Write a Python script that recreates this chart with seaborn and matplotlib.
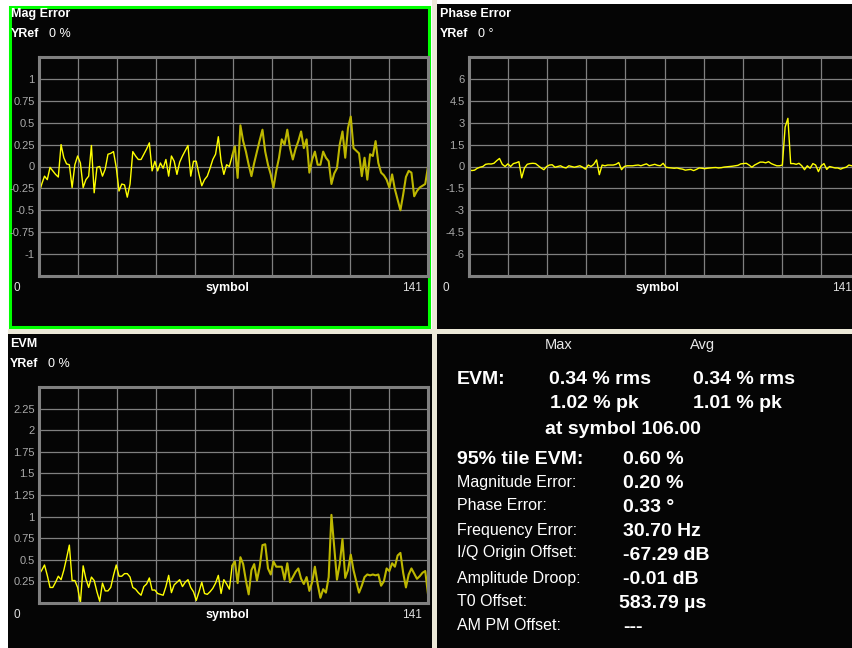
import numpy as np
import pandas as pd
import matplotlib.pyplot as plt
import seaborn as sns
from matplotlib.patches import Rectangle

W, H = 853, 648

symbols = np.arange(142)

mag_error = [-0.31, -0.20, -0.11, -0.15, -0.01, -0.05, -0.09, -0.12, 0.25, 0.10,
             0.03, 0.02, -0.24, 0.02, 0.12, 0.04, -0.24, -0.15, -0.11, 0.24,
             -0.30, -0.01, 0.00, -0.11, -0.03, 0.14, 0.15, 0.17, -0.01, -0.28,
             -0.20, -0.21, -0.35, -0.20, 0.17, 0.12, 0.08, 0.08, 0.14, 0.20,
             0.27, -0.05, 0.06, -0.05, 0.04, -0.02, 0.08, -0.11, 0.12, 0.06,
             -0.09, 0.05, 0.12, 0.18, 0.24, -0.11, 0.06, 0.06, -0.09, -0.22,
             -0.15, -0.11, -0.02, 0.08, 0.14, 0.34, 0.06, -0.09, 0.02, 0.00,
             0.12, 0.23, -0.13, 0.47, 0.29, 0.17, 0.02, -0.11, 0.04, 0.17,
             0.30, 0.42, 0.17, 0.02, -0.09, -0.24, -0.05, 0.10, 0.31, 0.25,
             0.42, 0.21, 0.08, 0.20, 0.29, 0.40, 0.21, 0.31, -0.07, 0.08,
             0.17, 0.02, 0.02, 0.17, 0.10, 0.06, -0.20, -0.08, -0.02, 0.25,
             0.40, 0.10, 0.44, 0.57, 0.21, 0.18, 0.15, -0.11, 0.10, -0.15,
             0.14, 0.12, 0.29, 0.04, -0.07, -0.10, -0.15, -0.24, -0.09, -0.26,
             -0.38, -0.50, -0.32, -0.12, -0.05, -0.07, -0.34, -0.28, -0.24, -0.22,
             -0.20, 0.00]

phase_error = [-0.20, -0.28, -0.25, -0.12, -0.05, 0.00, 0.15, 0.18, 0.17, 0.22,
               0.40, 0.55, 0.15, 0.00, 0.18, 0.00, 0.20, 0.25, 0.33, -0.78,
               -0.10, 0.15, 0.20, 0.22, 0.20, 0.05, -0.10, -0.22, 0.00, 0.10,
               0.12, -0.05, 0.00, 0.05, -0.05, -0.10, 0.05, 0.00, -0.05, 0.00,
               0.05, -0.05, -0.18, 0.10, 0.00, 0.15, 0.45, -0.56, 0.10, 0.05,
               0.10, 0.10, 0.10, 0.15, 0.27, -0.22, 0.00, 0.05, 0.05, 0.05,
               0.08, 0.10, 0.05, 0.12, 0.18, 0.05, 0.10, 0.15, 0.08, 0.05,
               0.22, -0.05, -0.08, -0.10, -0.12, -0.10, -0.15, -0.18, -0.25, -0.22,
               -0.20, -0.28, -0.20, -0.10, -0.12, -0.15, -0.12, -0.10, -0.08, -0.07,
               -0.10, -0.08, -0.04, -0.02, 0.00, 0.02, 0.05, 0.08, 0.18, 0.20,
               0.22, 0.10, -0.05, 0.10, 0.20, 0.30, 0.30, 0.25, 0.33, 0.20,
               0.12, 0.05, 0.05, 0.10, 2.70, 3.30, 0.20, 0.20, 0.15, 0.22,
               0.05, -0.22, 0.05, -0.12, 0.20, 0.10, -0.35, 0.05, 0.20, -0.20,
               0.00, -0.05, -0.10, -0.10, -0.18, -0.10, -0.05, 0.10, 0.05, 0.00,
               0.05, 0.00]

evm = [0.33, 0.38, 0.44, 0.32, 0.18, 0.18, 0.24, 0.31, 0.27, 0.38,
       0.52, 0.67, 0.26, 0.26, 0.18, 0.00, 0.43, 0.28, 0.18, 0.30,
       0.26, 0.13, 0.02, 0.23, 0.14, 0.14, 0.18, 0.32, 0.44, 0.31,
       0.31, 0.34, 0.34, 0.30, 0.18, 0.16, 0.12, 0.09, 0.19, 0.22,
       0.29, 0.15, 0.15, 0.11, 0.10, 0.09, 0.19, 0.32, 0.12, 0.21,
       0.24, 0.27, 0.19, 0.24, 0.27, 0.18, 0.13, 0.03, 0.13, 0.24,
       0.11, 0.10, 0.13, 0.17, 0.23, 0.32, 0.11, 0.27, 0.22, 0.16,
       0.43, 0.48, 0.23, 0.53, 0.45, 0.26, 0.10, 0.38, 0.45, 0.26,
       0.42, 0.67, 0.68, 0.40, 0.33, 0.48, 0.42, 0.42, 0.42, 0.27,
       0.46, 0.24, 0.30, 0.36, 0.40, 0.28, 0.22, 0.30, 0.14, 0.24,
       0.42, 0.22, 0.06, 0.16, 0.12, 0.30, 1.02, 0.65, 0.27, 0.45,
       0.74, 0.29, 0.38, 0.56, 0.38, 0.25, 0.12, 0.20, 0.30, 0.33,
       0.32, 0.33, 0.32, 0.33, 0.20, 0.25, 0.40, 0.37, 0.46, 0.42,
       0.55, 0.58, 0.35, 0.18, 0.33, 0.40, 0.34, 0.28, 0.31, 0.35,
       0.37, 0.10]

mag_yticks = [-1.25, -1, -0.75, -0.5, -0.25, 0, 0.25, 0.5, 0.75, 1, 1.25]
phase_yticks = [-7.5, -6, -4.5, -3, -1.5, 0, 1.5, 3, 4.5, 6, 7.5]
evm_yticks = [0, 0.25, 0.5, 0.75, 1, 1.25, 1.5, 1.75, 2, 2.25, 2.5]

summary_labels = ["Magnitude Error:", "Phase Error:", "Frequency Error:",
                  "I/Q Origin Offset:", "Amplitude Droop:", "T0 Offset:", "AM PM Offset:"]
summary_values = ["0.20 %", "0.33 °", "30.70 Hz", "-67.29 dB", "-0.01 dB", "583.79 µs", "---"]

sns.set_style("dark")
plt.rcParams['font.family'] = ['Liberation Sans', 'DejaVu Sans']

GRID = '#808080'
TICK = '#AAAAAA'
YEL = '#FFFF00'
OLIVE = '#BDB700'


def fx(x):
    return x / W


def fy(y):
    return 1 - y / H


def ftext(x, y, s, **kw):
    kw.setdefault('color', 'white')
    kw.setdefault('va', 'center')
    fig.text(fx(x), fy(y), s, **kw)


def panel(x0, y0, x1, y1, edge=None):
    r = Rectangle((fx(x0), fy(y1)), fx(x1) - fx(x0), fy(y0) - fy(y1),
                  transform=fig.transFigure, facecolor='#050505',
                  edgecolor=edge if edge else 'none', linewidth=2.2, zorder=-1)
    fig.patches.append(r)


def trace_axes(x0, y0, x1, y1, yticks, data, split):
    ax = fig.add_axes([fx(x0), fy(y1), fx(x1) - fx(x0), fy(y0) - fy(y1)])
    ax.set_facecolor('#050505')
    df = pd.DataFrame({'symbol': symbols, 'value': data})
    if split is None:
        sns.lineplot(data=df, x='symbol', y='value', ax=ax, color=YEL, lw=1.0,
                     estimator=None, sort=False)
    else:
        # older part of the trace is drawn dimmer, as on the analyser screen
        sns.lineplot(data=df.iloc[:split + 1], x='symbol', y='value', ax=ax, color=YEL,
                     lw=1.0, estimator=None, sort=False)
        sns.lineplot(data=df.iloc[split:], x='symbol', y='value', ax=ax, color=OLIVE,
                     lw=1.5, estimator=None, sort=False)
    ax.set_xlim(0, 141)
    ax.set_ylim(yticks[0], yticks[-1])
    ax.set_xticks(np.linspace(0, 141, 11))
    ax.set_xticklabels([])
    ax.set_yticks(yticks)
    labels = ['%g' % t for t in yticks]
    labels[0] = ''
    labels[-1] = ''
    ax.set_yticklabels(labels, color=TICK, fontsize=8)
    ax.tick_params(length=0, pad=3)
    ax.grid(True, color=GRID, lw=0.9)
    ax.set_axisbelow(True)
    for s in ax.spines.values():
        s.set_visible(True)
        s.set_color(GRID)
        s.set_linewidth(2.2)
    ax.set_xlabel('')
    ax.set_ylabel('')
    return ax


fig = plt.figure(figsize=(W / 100, H / 100), dpi=100)
fig.patch.set_facecolor('white')

# separators
fig.patches.append(Rectangle((fx(432), 0), fx(5), 1, transform=fig.transFigure,
                             facecolor='#ECE9D8', edgecolor='none', zorder=-2))
fig.patches.append(Rectangle((fx(8), fy(334)), 1, fy(329) - fy(334), transform=fig.transFigure,
                             facecolor='#ECE9D8', edgecolor='none', zorder=-2))

panel(9.5, 6.5, 429.5, 326.5, edge='#00FF00')
panel(437, 4, 853, 329)
panel(8, 334, 432, 648)
panel(437, 334, 853, 648)

trace_axes(39, 57, 428, 276, mag_yticks, mag_error, 70)
trace_axes(469, 57, 860, 276, phase_yticks, phase_error, None)
trace_axes(39, 387, 428, 603, evm_yticks, evm, 70)

# panel headers
for x, y, title, unit in [(11, 14, "Mag Error", "0 %"), (440, 14, "Phase Error", "0 °"),
                          (10, 344, "EVM", "0 %")]:
    ftext(x, y, title, fontsize=9, fontweight='bold')
    ftext(x, y + 20, "YRef", fontsize=9, fontweight='bold')
    ftext(x + 38, y + 20, unit, fontsize=9)

for x0, x1, y in [(17, 422, 288), (446, 852, 288), (17, 422, 615)]:
    ftext(x0, y, "0", fontsize=8.5, ha='center', color='#E0E0E0')
    ftext((x0 + x1) / 2 + 8, y, "symbol", fontsize=9, fontweight='bold', ha='center')
    ftext(x1, y, "141", fontsize=8.5, ha='right', color='#E0E0E0')

# summary table
ftext(559, 345, "Max", fontsize=10.5, ha='center', color='#E8E8E8')
ftext(703, 345, "Avg", fontsize=10.5, ha='center', color='#E8E8E8')
ftext(457, 379, "EVM:", fontsize=14, fontweight='bold')
ftext(549, 379, "0.34 % rms", fontsize=14, fontweight='bold')
ftext(693, 379, "0.34 % rms", fontsize=14, fontweight='bold')
ftext(550, 404, "1.02 % pk", fontsize=14, fontweight='bold')
ftext(693, 404, "1.01 % pk", fontsize=14, fontweight='bold')
ftext(545, 429, "at symbol 106.00", fontsize=14, fontweight='bold')
ftext(457, 459, "95% tile EVM:", fontsize=14, fontweight='bold')
ftext(623, 459, "0.60 %", fontsize=14, fontweight='bold')

label_y = [482, 505, 530, 553, 578, 601, 625]
for lab, val, y in zip(summary_labels, summary_values, label_y):
    ftext(457, y, lab, fontsize=11.5)
    vx = 619 if val.endswith("µs") else 623
    ftext(vx, y + 2, val, fontsize=14, fontweight='bold')

fig.savefig("out.png", dpi=100, facecolor=fig.get_facecolor())
